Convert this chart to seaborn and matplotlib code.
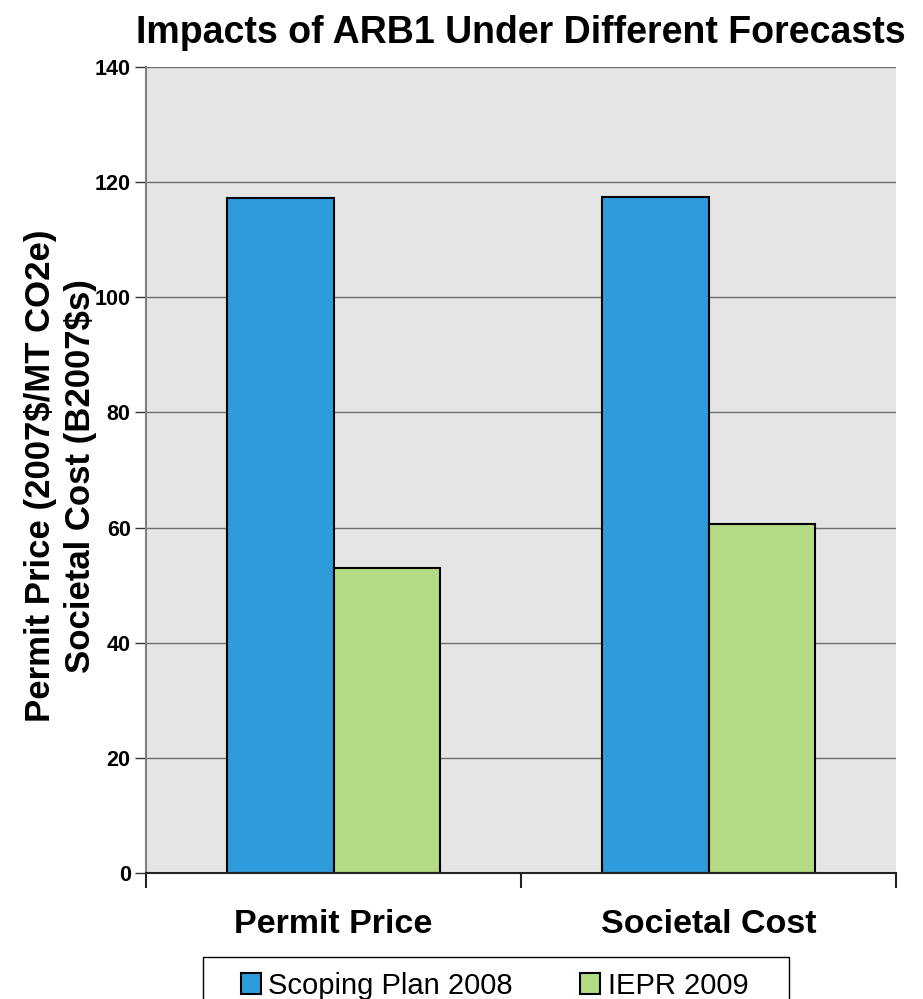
import matplotlib
matplotlib.use("Agg")
import matplotlib.pyplot as plt
import seaborn as sns
import pandas as pd
from matplotlib.patches import Patch, Rectangle

categories = ["Permit Price", "Societal Cost"]
series_names = ["Scoping Plan 2008", "IEPR 2009"]
scoping_plan_2008 = [117.25, 117.5]
iepr_2009 = [52.9, 60.6]
yticks = [0, 20, 40, 60, 80, 100, 120, 140]
colors = ["#2E9BDA", "#B3DB85"]

df = pd.DataFrame({
    "category": categories * 2,
    "series": [series_names[0]] * 2 + [series_names[1]] * 2,
    "value": scoping_plan_2008 + iepr_2009,
})

sns.set_style("white")
plt.rcParams["font.family"] = ["Liberation Sans", "DejaVu Sans"]
plt.rcParams["text.color"] = "black"
plt.rcParams["axes.labelcolor"] = "black"
plt.rcParams["xtick.color"] = "black"
plt.rcParams["ytick.color"] = "black"

fig = plt.figure(figsize=(9.23, 9.99), dpi=100)
ax = fig.add_axes([146/923, 1-873/999, 750/923, 806/999])
ax.set_facecolor("#E5E5E5")

sns.barplot(data=df, x="category", y="value", hue="series", order=categories,
            hue_order=series_names, palette=colors, width=0.57, gap=0,
            edgecolor="black", linewidth=1.5, saturation=1, legend=False, ax=ax)

ax.set_xlim(-0.5, 1.5)
ax.set_ylim(0, 140)
ax.set_yticks(yticks)
ax.set_yticklabels([str(v) for v in yticks], fontsize=15.5, fontweight="bold", color="black")
ax.yaxis.grid(True, color="#6E6E6E", linewidth=1)
ax.set_axisbelow(True)
ax.tick_params(axis="y", direction="out", length=8, width=1, color="#333333", pad=3, left=True)

# category separators as major x ticks, labels at centres as minor ticks
ax.set_xticks([-0.5, 0.5, 1.5])
ax.set_xticklabels(["", "", ""])
ax.tick_params(axis="x", which="major", direction="out", length=11, width=1.5, color="#222222", bottom=True)
ax.set_xticks([0, 1], minor=True)
ax.set_xticklabels(categories, minor=True, fontsize=24.5, fontweight="bold", color="black")
ax.tick_params(axis="x", which="minor", length=0, pad=26)
ax.set_xlabel("")

for s in ["top", "right"]:
    ax.spines[s].set_visible(False)
ax.spines["left"].set_color("#808080")
ax.spines["left"].set_linewidth(1.5)
ax.spines["bottom"].set_color("#222222")
ax.spines["bottom"].set_linewidth(1.5)

ax.set_ylabel("Permit Price (2007$/MT CO2e)\nSocietal Cost (B2007$s)",
              fontsize=25, fontweight="bold", linespacing=1.25, color="black")
ax.yaxis.set_label_coords((97-146)/750, (873-476)/806)

ax.set_title("Impacts of ARB1 Under Different Forecasts", fontsize=27,
             fontweight="bold", pad=17, color="black")

handles = [Patch(facecolor=c, edgecolor="black", linewidth=1.5) for c in colors]
leg = fig.legend(handles, series_names, loc="upper left", ncol=2,
                 bbox_to_anchor=(226/923, 1-957/999), fontsize=21,
                 frameon=False, handlelength=0.7, handleheight=0.7,
                 handletextpad=0.25, columnspacing=2.3, borderpad=0.5,
                 borderaxespad=0)
frame = Rectangle((203/923, 1-1010/999), 586/923, 53/999, transform=fig.transFigure,
                  facecolor="white", edgecolor="black", linewidth=1, zorder=0)
fig.add_artist(frame)

fig.savefig("out.png", dpi=100)
